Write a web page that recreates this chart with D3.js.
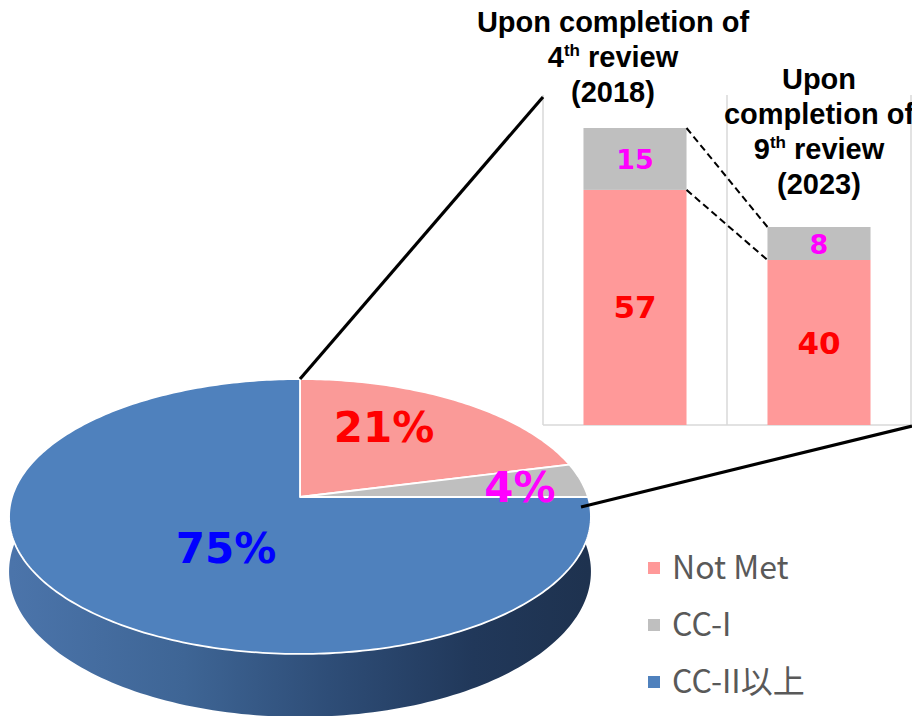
<!DOCTYPE html>
<html>
<head>
<meta charset="utf-8">
<script src="https://cdn.jsdelivr.net/npm/d3@7"></script>
<style>
  html, body { margin: 0; padding: 0; background: #fff; }
  svg { display: block; }
</style>
</head>
<body>
<svg id="chart" width="912" height="716"></svg>
<script>
// ---- data ----
const categories = ["Not Met", "CC-I", "CC-II以上"];
const pieShares = [21, 4, 75];              // percent of all items
const reviewOrdinals = ["4", "9"];
const reviewYears = ["2018", "2023"];
const notMetCounts = [57, 40];
const cc1Counts = [15, 8];
const barAxisMax = 80;

// ---- styles ----
const pieColors = ["#fa9a98", "#bfbfbf", "#4f81bd"];
const legendColors = ["#ff9999", "#bfbfbf", "#4f81bd"];
const labelColors = ["#ff0000", "#ff00ff", "#0000ff"];
const gridColor = "#d9d9d9";

const svg = d3.select("#chart");

// ================= stacked bars =================
const plot = { left: 543, right: 911, top: 95, bottom: 425 };
const x = d3.scaleBand()
  .domain(d3.range(reviewOrdinals.length))
  .range([plot.left, plot.right])
  .paddingInner(0.44).paddingOuter(0.22);
const y = d3.scaleLinear().domain([0, barAxisMax]).range([plot.bottom, plot.top]);

// category separators and base line
const sepX = [plot.left, ...d3.range(1, reviewOrdinals.length).map(i => x(i) - x.step() * 0.22), plot.right];
svg.append("g").selectAll("line").data(sepX).join("line")
  .attr("x1", d => d).attr("x2", d => d)
  .attr("y1", y(barAxisMax)).attr("y2", y(0))
  .attr("stroke", gridColor).attr("stroke-width", 1.5);
svg.append("line")
  .attr("x1", plot.left).attr("x2", plot.right)
  .attr("y1", y(0)).attr("y2", y(0))
  .attr("stroke", gridColor).attr("stroke-width", 1.5);

const stacks = reviewOrdinals.map((_, i) => ({
  i, notMet: notMetCounts[i], cc1: cc1Counts[i]
}));

const bars = svg.append("g");
bars.selectAll("rect.nm").data(stacks).join("rect")
  .attr("x", d => x(d.i)).attr("width", x.bandwidth())
  .attr("y", d => y(d.notMet)).attr("height", d => y(0) - y(d.notMet))
  .attr("fill", legendColors[0]);
bars.selectAll("rect.cc").data(stacks).join("rect")
  .attr("x", d => x(d.i)).attr("width", x.bandwidth())
  .attr("y", d => y(d.notMet + d.cc1)).attr("height", d => y(d.notMet) - y(d.notMet + d.cc1))
  .attr("fill", legendColors[1]);

// value labels
bars.selectAll("text.nm").data(stacks).join("text")
  .attr("x", d => x(d.i) + x.bandwidth() / 2)
  .attr("y", d => y(d.notMet / 2) + 11)
  .attr("text-anchor", "middle")
  .attr("font-family", "DejaVu Sans").attr("font-weight", "bold").attr("font-size", 31)
  .attr("fill", labelColors[0])
  .text(d => d.notMet);
bars.selectAll("text.cc").data(stacks).join("text")
  .attr("x", d => x(d.i) + x.bandwidth() / 2)
  .attr("y", d => y(d.notMet + d.cc1 / 2) + 10)
  .attr("text-anchor", "middle")
  .attr("font-family", "DejaVu Sans").attr("font-weight", "bold").attr("font-size", 27)
  .attr("fill", labelColors[1])
  .text(d => d.cc1);

// dashed series lines between the two bars
for (let i = 0; i + 1 < stacks.length; i++) {
  const a = stacks[i], b = stacks[i + 1];
  [[a.notMet + a.cc1, b.notMet + b.cc1], [a.notMet, b.notMet]].forEach(([v0, v1]) => {
    svg.append("line")
      .attr("x1", x(i) + x.bandwidth()).attr("y1", y(v0))
      .attr("x2", x(i + 1)).attr("y2", y(v1))
      .attr("stroke", "#000").attr("stroke-width", 2)
      .attr("stroke-dasharray", "7,4");
  });
}

// column headings
const headings = [
  { cx: 613, baseline: 32, lead: ["Upon completion of"] },
  { cx: x(1) + x.bandwidth() / 2, baseline: 89, lead: ["Upon", "completion of"] }
];
headings.forEach((h, i) => {
  const t = svg.append("text")
    .attr("text-anchor", "middle")
    .attr("font-family", "Liberation Sans, Arial, sans-serif")
    .attr("font-weight", "bold").attr("font-size", 29).attr("fill", "#000");
  let line = 0;
  const lh = 35;
  h.lead.forEach(s => {
    t.append("tspan").attr("x", h.cx).attr("y", h.baseline + lh * line++).text(s);
  });
  const row = t.append("tspan").attr("x", h.cx).attr("y", h.baseline + lh * line++);
  row.append("tspan").text(reviewOrdinals[i]);
  row.append("tspan").attr("font-size", 17).attr("dy", -11).text("th");
  row.append("tspan").attr("dy", 11).text(" review");
  t.append("tspan").attr("x", h.cx).attr("y", h.baseline + lh * line++).text(`(${reviewYears[i]})`);
});

// ================= 3-D pie =================
const pie = { cx: 300, cy: 497, a: 288, b: 134.7, k: 0.1418, h: 54 };
// perspective projection of a point on the disc (angle clockwise from 12 o'clock), z: 0 top, 1 bottom
function proj(angle, r = 1, z = 0) {
  const u = r * Math.sin(angle), v = r * Math.cos(angle);
  const w = 1 + pie.k * v;
  return [pie.cx + pie.a * u / w, pie.cy - pie.b * v / w + z * pie.h / w];
}
function arcPoints(a0, a1, z, n) {
  return d3.range(n + 1).map(j => proj(a0 + (a1 - a0) * j / n, 1, z));
}

const defs = svg.append("defs");
const grad = defs.append("linearGradient").attr("id", "sideGrad")
  .attr("gradientUnits", "userSpaceOnUse")
  .attr("x1", pie.cx - pie.a).attr("x2", pie.cx + pie.a).attr("y1", 0).attr("y2", 0);
[[0, "#4b74aa"], [0.3, "#3e6595"], [0.55, "#2e4d77"], [0.8, "#21385a"], [1, "#1e324f"]]
  .forEach(([o, c]) => grad.append("stop").attr("offset", o).attr("stop-color", c));

// side wall (front half)
const s0 = Math.PI * 0.3, s1 = Math.PI * 1.7;
const sideTop = arcPoints(s0, s1, 0, 200);
const sideBot = arcPoints(s1, s0, 1, 200);
svg.append("path")
  .attr("d", "M" + sideTop.concat(sideBot).map(p => p.join(",")).join("L") + "Z")
  .attr("fill", "url(#sideGrad)");

// top face slices
const slices = d3.pie().sort(null)(pieShares);
svg.append("g").selectAll("path").data(slices).join("path")
  .attr("d", d => {
    const n = Math.max(4, Math.ceil((d.endAngle - d.startAngle) * 60));
    const pts = [proj(0, 0)].concat(arcPoints(d.startAngle, d.endAngle, 0, n));
    return "M" + pts.map(p => p.join(",")).join("L") + "Z";
  })
  .attr("fill", (d, i) => pieColors[i])
  .attr("stroke", "#fff").attr("stroke-width", 1.8)
  .attr("stroke-linejoin", "round");

// percentage labels
const pieLabelPos = [[384, 442], [520, 502], [226, 563]];
svg.append("g").selectAll("text").data(slices).join("text")
  .attr("x", (d, i) => pieLabelPos[i][0]).attr("y", (d, i) => pieLabelPos[i][1])
  .attr("text-anchor", "middle")
  .attr("font-family", "DejaVu Sans").attr("font-weight", "bold").attr("font-size", 42)
  .attr("fill", (d, i) => labelColors[i])
  .text(d => d.data + "%");

// connector lines from the pie to the bar panel
const topPt = proj(0, 1, 0);
svg.append("line")
  .attr("x1", topPt[0]).attr("y1", topPt[1])
  .attr("x2", plot.left).attr("y2", y(barAxisMax) + 2)
  .attr("stroke", "#000").attr("stroke-width", 3.2);
svg.append("line")
  .attr("x1", pie.cx + pie.a - 7).attr("y1", pie.cy + 10)
  .attr("x2", plot.right + 1).attr("y2", y(0) + 1)
  .attr("stroke", "#000").attr("stroke-width", 3.2);

// ================= legend =================
const legend = svg.append("g").attr("transform", "translate(648,568)");
const li = legend.selectAll("g").data(categories).join("g")
  .attr("transform", (d, i) => `translate(0,${i * 57})`);
li.append("rect").attr("x", 0).attr("y", -6).attr("width", 12).attr("height", 12)
  .attr("fill", (d, i) => legendColors[i]);
li.append("text").attr("x", 24).attr("y", 11)
  .attr("font-family", "Noto Sans CJK JP, sans-serif").attr("font-size", 32)
  .attr("fill", "#595959")
  .text(d => d);
</script>
</body>
</html>
